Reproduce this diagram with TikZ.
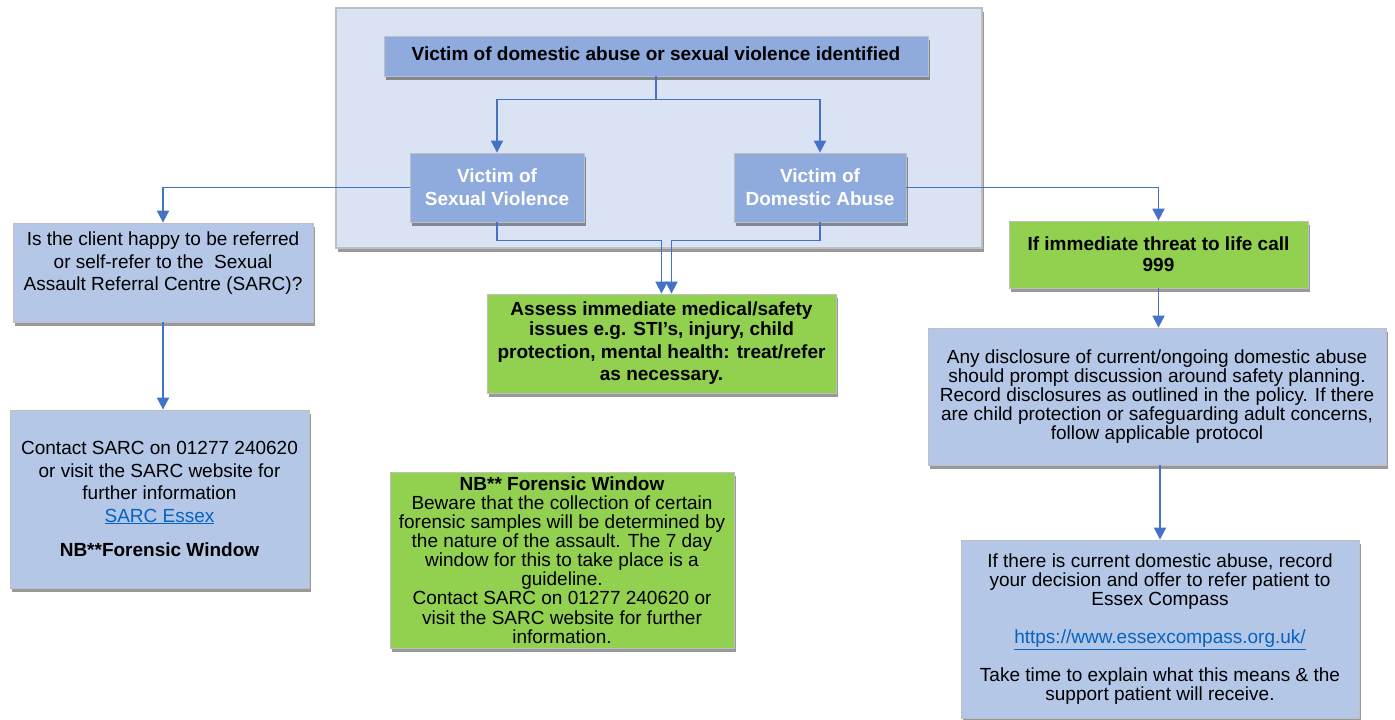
\documentclass[tikz,border=0pt]{standalone}
\usepackage{fontspec}
\setmainfont{Liberation Sans}
\usetikzlibrary{shadows,arrows.meta}
\definecolor{panelfill}{HTML}{DAE3F3}
\definecolor{bordergrey}{HTML}{BFBFBF}
\definecolor{boxmid}{HTML}{8FAADC}
\definecolor{boxlight}{HTML}{B4C7E7}
\definecolor{boxgreen}{HTML}{92D050}
\definecolor{conncol}{HTML}{4472C4}
\definecolor{linkcol}{HTML}{0563C1}
\tikzset{
  shad/.style={drop shadow={shadow xshift=1.5pt, shadow yshift=-4pt, fill=black, opacity=0.4}},
  basebox/.style={draw=bordergrey, line width=0.8pt, inner sep=0pt, align=center, shad,
    font=\fontsize{19}{22.5}\selectfont},
  midbox/.style={basebox, fill=boxmid},
  lightbox/.style={basebox, fill=boxlight},
  greenbox/.style={basebox, fill=boxgreen},
  conn/.style={draw=conncol, line width=1.8pt, -{Triangle[width=12pt,length=12pt]}},
}
\newcommand{\lnk}[1]{\textcolor{linkcol}{\underline{#1}}}
\begin{document}
\begin{tikzpicture}[x=1pt,y=-1pt]
\useasboundingbox (0,0) rectangle (1395,720);
% panel
\node[draw=bordergrey, line width=1.5pt, fill=panelfill, inner sep=0pt, shad,
  minimum width=646pt, minimum height=240pt] (panel) at (659,128) {};
% top boxes
\node[midbox, minimum width=544pt, minimum height=40pt, font=\fontsize{19}{22}\selectfont\bfseries] (top) at (656,56)
  {\raisebox{4pt}{Victim of domestic abuse or sexual violence identified}};
\node[midbox, minimum width=174pt, minimum height=69pt, text=white, font=\fontsize{19}{23}\selectfont\bfseries] (sv) at (497,187.5)
  {Victim of\\Sexual Violence};
\node[midbox, minimum width=172pt, minimum height=69pt, text=white, font=\fontsize{19}{23}\selectfont\bfseries] (da) at (820,187.5)
  {Victim of\\Domestic Abuse};
% left column
\node[lightbox, minimum width=300pt, minimum height=99pt] (q) at (163,272.5)
  {Is the client happy to be referred\\or self-refer to the\ \ Sexual\\Assault Referral Centre (SARC)?\\~};
\node[lightbox, minimum width=299pt, minimum height=178pt] (contact) at (159.5,499)
  {Contact SARC on 01277 240620\\or visit the SARC website for\\further information\\\lnk{SARC Essex}\\[12pt]\textbf{NB**Forensic Window}};
% middle column
\node[greenbox, minimum width=349pt, minimum height=99pt, font=\fontsize{19}{22.7}\selectfont\bfseries] (assess) at (661.5,343.5)
  {\raisebox{-3pt}{Assess immediate medical/safety}\\issues e.g. STI’s, injury, child\\protection, mental health: treat/refer\\as necessary.};
\node[greenbox, minimum width=344pt, minimum height=176pt, font=\fontsize{19}{19.1}\selectfont] (nb) at (562,560)
  {\textbf{NB** Forensic Window}\\Beware that the collection of certain\\forensic samples will be determined by\\the nature of the assault. The 7 day\\window for this to take place is a\\guideline.\\Contact SARC on 01277 240620 or\\visit the SARC website for further\\information.};
% right column
\node[greenbox, minimum width=299pt, minimum height=67pt, font=\fontsize{19}{21}\selectfont\bfseries] (threat) at (1158.5,254.5)
  {If immediate threat to life call\\999};
\node[lightbox, minimum width=458pt, minimum height=137pt, font=\fontsize{19}{19.2}\selectfont] (disc) at (1157,396.5)
  {Any disclosure of current/ongoing domestic abuse\\should prompt discussion around safety planning.\\Record disclosures as outlined in the policy. If there\\are child protection or safeguarding adult concerns,\\follow applicable protocol};
\node[lightbox, minimum width=398pt, minimum height=178pt, font=\fontsize{19}{19}\selectfont] (last) at (1160,629)
  {If there is current domestic abuse, record\\your decision and offer to refer patient to\\Essex Compass\\[19pt]\lnk{https://www.essexcompass.org.uk/}\\[17pt]Take time to explain what this means \& the\\support patient will receive.};
% connectors
\draw[conn] (top.south) -- ++(0,23) -| (sv.north);
\draw[conn] (top.south) -- ++(0,23) -| (da.north);
\draw[conn] (sv.west) -| (q.north);
\draw[conn] (da.east) -| (threat.north);
\draw[conn] (sv.south) -- ++(0,18) -| (assess.north);
\draw[conn] (da.south) -- ++(0,18) -| ([xshift=10pt]assess.north);
\draw[conn] (q.south) -- (q.south |- contact.north);
\draw[conn] (threat.south) -- (threat.south |- disc.north);
\draw[conn] ([xshift=3pt]disc.south) -- ([xshift=3pt]disc.south |- last.north);
\end{tikzpicture}
\end{document}
